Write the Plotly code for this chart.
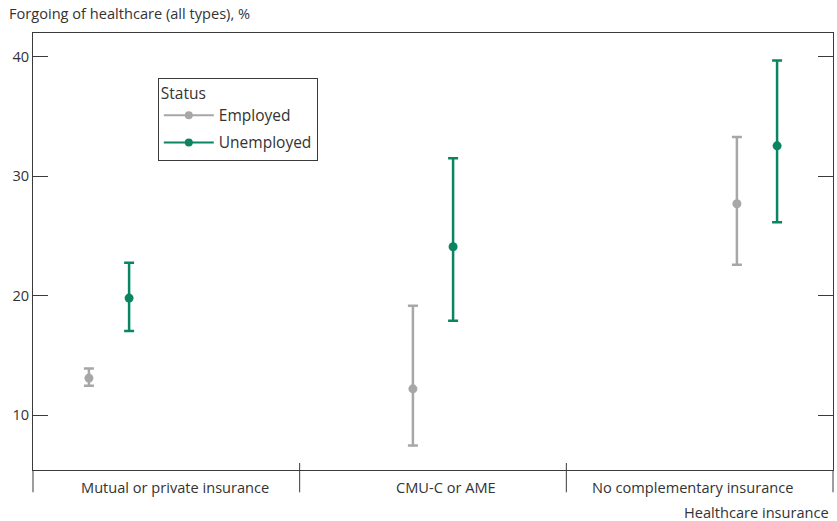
import plotly.graph_objects as go

categories = ["Mutual or private insurance", "CMU-C or AME", "No complementary insurance"]
statuses = ["Employed", "Unemployed"]
employed_val = [13.1, 12.2, 27.7]
employed_hi = [13.9, 19.15, 33.3]
employed_lo = [12.45, 7.45, 22.6]
unemployed_val = [19.8, 24.1, 32.55]
unemployed_hi = [22.75, 31.5, 39.7]
unemployed_lo = [17.05, 17.9, 26.15]
y_ticks = [10, 20, 30, 40]

colors = {"Employed": "#a7a7a9", "Unemployed": "#0b8561"}
offsets = {"Employed": -0.062, "Unemployed": 0.062}
series = {
    "Employed": (employed_val, employed_hi, employed_lo),
    "Unemployed": (unemployed_val, unemployed_hi, unemployed_lo),
}
label_pos = [0.178, 0.516, 0.824]

FS = 14.6
LFS = 15.5
fig = go.Figure()
for s in statuses:
    vals, hi, lo = series[s]
    xs = [i + offsets[s] for i in range(len(categories))]
    fig.add_trace(go.Scatter(
        x=xs, y=vals, mode="markers", showlegend=False,
        marker=dict(color=colors[s], size=9),
        error_y=dict(type="data", symmetric=False,
                     array=[h - v for h, v in zip(hi, vals)],
                     arrayminus=[v - l for v, l in zip(vals, lo)],
                     color=colors[s], thickness=2.5, width=5),
    ))
for s in statuses:
    fig.add_trace(go.Scatter(
        x=[None], y=[None], mode="lines+markers", name=s, legendgroup=s,
        line=dict(color=colors[s], width=2), marker=dict(color=colors[s], size=8),
    ))

axis_color = "#3a3a3a"
fig.update_layout(
    width=837, height=521,
    margin=dict(l=33, r=4, t=33, b=51, autoexpand=False),
    paper_bgcolor="white", plot_bgcolor="white",
    font=dict(family="Open Sans, Noto Sans, sans-serif", size=FS, color="#333333"),
    xaxis=dict(range=[-0.2346, 2.2346], showgrid=False, zeroline=False,
               showticklabels=False, showline=True, mirror=True,
               linecolor=axis_color, linewidth=1, automargin=False),
    yaxis=dict(range=[5.4, 42.0], tickvals=y_ticks, showgrid=False, zeroline=False,
               ticks="inside", ticklen=15, tickcolor=axis_color, tickwidth=1,
               showline=True, mirror="ticks", linecolor=axis_color, linewidth=1,
               tickfont=dict(size=FS, color="#333333"), automargin=False),
    legend=dict(x=0.156, y=0.898, xanchor="left", yanchor="top",
                bordercolor=axis_color, borderwidth=1, bgcolor="white",
                title=dict(text="Status", font=dict(size=LFS)),
                font=dict(size=LFS), itemwidth=50, tracegroupgap=4,
                traceorder="grouped"),
    showlegend=True,
)

# category dividers and labels below axis
for k in range(len(categories) + 1):
    xp = k / len(categories)
    y0 = 0 if k in (0, len(categories)) else 0.016
    fig.add_shape(type="line", xref="paper", yref="paper", x0=xp, x1=xp,
                  y0=y0, y1=-0.051, line=dict(color=axis_color, width=1))
for c, xp in zip(categories, label_pos):
    fig.add_annotation(text=c, xref="paper", yref="paper",
                       x=xp, y=-0.012, xanchor="center", yanchor="top",
                       showarrow=False, font=dict(size=FS, color="#333333"))

fig.add_annotation(text="Forgoing of healthcare (all types), %", xref="paper", yref="paper",
                   x=-0.032, y=1.018, xanchor="left", yanchor="bottom",
                   showarrow=False, font=dict(size=FS, color="#333333"))
fig.add_annotation(text="Healthcare insurance", xref="paper", yref="paper",
                   x=0.998, y=-0.069, xanchor="right", yanchor="top",
                   showarrow=False, font=dict(size=FS, color="#333333"))

fig.write_html("out.html", config={"displayModeBar": False},
               post_script="document.body.style.margin='0';document.body.style.overflow='hidden';")
